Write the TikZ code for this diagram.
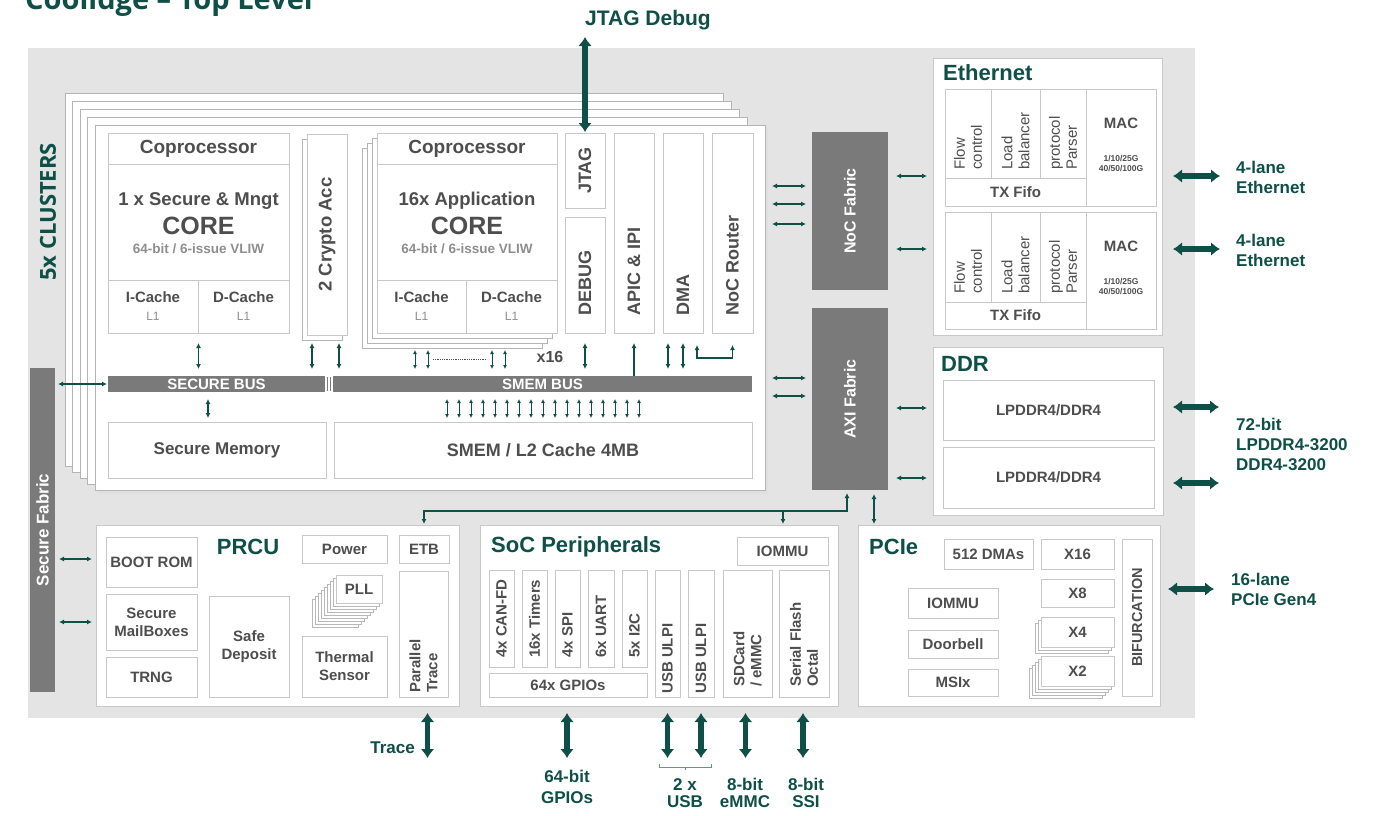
\documentclass[tikz,border=0pt]{standalone}
\usepackage{fontspec}
\setmainfont{Liberation Sans}
\newfontfamily\osans{Open Sans}
\usetikzlibrary{arrows.meta,calc}
\definecolor{tealdk}{HTML}{0E4F47}
\definecolor{bggray}{HTML}{E4E4E4}
\definecolor{fabgray}{HTML}{7A7A7A}
\definecolor{bdgray}{HTML}{C8C8C8}
\definecolor{shgray}{HTML}{B4B4B4}
\definecolor{txgray}{HTML}{4E4E4E}
\definecolor{ltgray}{HTML}{8E8E8E}
\definecolor{brblue}{HTML}{5E8FBF}
\newcommand{\fsz}[2]{\fontsize{#1}{#2}\selectfont}
\newcommand{\mkbox}[7][]{%
  \pgfmathsetmacro\mbw{#5-#3}%
  \pgfmathsetmacro\mbh{#6-#4}%
  \node[bx,anchor=north west,minimum width=\mbw pt,minimum height=\mbh pt,#1] (#2) at (#3,#4) {#7};}
\tikzset{
  bx/.style={draw=bdgray,fill=white,line width=1pt,inner sep=0pt,outer sep=0pt,text=txgray,font=\bfseries\fsz{15}{18},align=center},
  sheet/.style={draw=shgray,fill=white,line width=0.8pt},
  fab/.style={draw=none,fill=fabgray,text=white,font=\bfseries\fsz{16}{18}},
  hd/.style={text=tealdk,font=\bfseries\fsz{22}{24},inner sep=0pt,anchor=west},
  lbl/.style={text=tealdk,font=\bfseries\fsz{17}{20},inner sep=0pt,align=left},
  vl/.style={rotate=90,anchor=west,align=left,inner sep=0pt,text=txgray,font=\bfseries\fsz{15}{17}},
  sa/.style={draw=tealdk,line width=1.3pt,{Latex[length=5pt,width=5pt]}-{Latex[length=5pt,width=5pt]}},
  sau/.style={draw=tealdk,line width=1.3pt,-{Latex[length=5pt,width=5pt]}},
  ta/.style={draw=tealdk,line width=1pt,{Latex[length=4pt,width=4pt]}-{Latex[length=4pt,width=4pt]}},
  bigar/.style={draw=tealdk,line width=5.5pt,{Latex[length=9pt,width=14pt]}-{Latex[length=9pt,width=14pt]}},
  ctext/.style={text=txgray,inner sep=0pt,anchor=base},
}
\begin{document}
\begin{tikzpicture}[x=1pt,y=-1pt]
\useasboundingbox (0,0) rectangle (1379,815);
\fill[white] (0,0) rectangle (1379,815);
\node[anchor=base west,inner sep=0pt,text=tealdk,font=\osans\bfseries\fsz{29}{30}] (title) at (25,9) {Coolidge – Top Level};
\fill[bggray] (28,48) rectangle (1195,718);

\node[lbl,font=\bfseries\fsz{21}{22}] (jtagT) at (648,20) {JTAG Debug};

% ---------- cluster stack ----------
\foreach \k in {4,3,2,1}{
  \fill[black!10] ({97-7.5*\k},{127-8*\k}) rectangle ({758-8*\k},{493-6*\k});
  \filldraw[sheet] ({95-7.5*\k},{125-8*\k}) rectangle ({755-8*\k},{490-6*\k});
}
\fill[black!12] (97,127) rectangle (768,494);
\mkbox[draw=shgray]{cluster}{95}{125}{765}{490}{}
\node[rotate=90,inner sep=0pt,text=tealdk,font=\osans\bfseries\fsz{22}{24}] (clusters) at (48,212) {5x CLUSTERS};

\mkbox[fab,font=\bfseries\fsz{17}{18}]{secfab}{30}{368}{55}{692}{\rotatebox{90}{Secure Fabric}}

% secure coprocessor
\mkbox{scop}{108}{133}{289}{333}{}
\mkbox[font=\bfseries\fsz{19}{20}]{scophd}{108}{133}{289}{164}{Coprocessor}
\mkbox{sic}{108}{280}{198}{333}{I-Cache\\{\mdseries\color{ltgray}\fsz{12}{12}L1}}
\mkbox{sdc}{198}{280}{289}{333}{D-Cache\\{\mdseries\color{ltgray}\fsz{12}{12}L1}}
\node[ctext,font=\bfseries\fsz{18.5}{20}] (st1) at (198.5,205.5) {1 x Secure \& Mngt};
\node[ctext,font=\bfseries\fsz{25}{26}] (st2) at (198.5,234) {CORE};
\node[ctext,text=ltgray,font=\bfseries\fsz{13.5}{14}] (st3) at (198.5,253) {64-bit / 6-issue VLIW};

% crypto
\filldraw[sheet] (302,139) rectangle (342,340);
\mkbox[font=\bfseries\fsz{18.5}{20}]{crypto}{307}{134}{347}{335}{\rotatebox{90}{2 Crypto Acc}}

% application coprocessor stack
\foreach \k in {3,2,1}
  \filldraw[sheet] ({377-5*\k},{133+5*\k}) rectangle ({557-5*\k},{333+5*\k});
\mkbox{acop}{377}{133}{557}{333}{}
\mkbox[font=\bfseries\fsz{19}{20}]{acophd}{377}{133}{557}{164}{Coprocessor}
\mkbox{aic}{377}{280}{466}{333}{I-Cache\\{\mdseries\color{ltgray}\fsz{12}{12}L1}}
\mkbox{adc}{466}{280}{557}{333}{D-Cache\\{\mdseries\color{ltgray}\fsz{12}{12}L1}}
\node[ctext,font=\bfseries\fsz{18.5}{20}] (at1) at (467,205.5) {16x Application};
\node[ctext,font=\bfseries\fsz{25}{26}] (at2) at (467,234) {CORE};
\node[ctext,text=ltgray,font=\bfseries\fsz{13.5}{14}] (at3) at (467,253) {64-bit / 6-issue VLIW};

% right column blocks of cluster
\mkbox[font=\bfseries\fsz{18}{20}]{jtag}{565}{133}{605}{208}{\rotatebox{90}{JTAG}}
\mkbox{debug}{565}{217}{605}{333}{}
\mkbox{apic}{614}{133}{654}{333}{}
\mkbox{dma}{663}{133}{703}{333}{}
\mkbox{nocr}{712}{133}{753}{333}{}
\node[vl,font=\bfseries\fsz{18}{20}] (debugT) at ($(debug.south)+(0,-17)$) {DEBUG};
\node[vl,font=\bfseries\fsz{18}{20}] (apicT) at ($(apic.south)+(0,-17)$) {APIC \& IPI};
\node[vl,font=\bfseries\fsz{18}{20}] (dmaT) at ($(dma.south)+(0,-17)$) {DMA};
\node[vl,font=\bfseries\fsz{18}{20}] (nocrT) at ($(nocr.south)+(0,-17)$) {NoC Router};

% buses and memories
\mkbox[fab,font=\bfseries\fsz{15}{16}]{secbus}{108}{376}{325}{392}{SECURE BUS}
\mkbox[fab,font=\bfseries\fsz{15}{16}]{smembus}{333}{376}{752}{392}{SMEM BUS}
\draw[fabgray,line width=0.8pt] (327.5,377) -- (327.5,391) (330.5,377) -- (330.5,391);
\mkbox[font=\bfseries\fsz{17}{18}]{secmem}{108}{422}{326}{478}{Secure Memory}
\mkbox[font=\bfseries\fsz{18}{20}]{smem}{334}{422}{752}{478}{SMEM / L2 Cache 4MB}

% arrows inside cluster
\draw[sa] ($(scop.south)+(0,10)$) -- ($(scop.south |- secbus.north)+(0,-7)$);
\draw[sa] ($(crypto.south)+(-15,8)$) -- ($(crypto.south |- secbus.north)+(-15,-7)$);
\draw[sa] ($(crypto.south)+(12,8)$) -- ($(crypto.south |- smembus.north)+(12,-7)$);
\foreach \dx in {-52,-39,25,38}
  \draw[ta] ($(acop.south)+(\dx,17)$) -- ($(acop.south |- smembus.north)+(\dx,-7)$);
\draw[densely dotted,txgray,line width=0.8pt] ($(acop.south)+(-34,26)$) -- ($(acop.south)+(20,26)$);
\node[text=txgray,font=\bfseries\fsz{16}{16},inner sep=0pt] (x16lbl) at (550,357) {x16};
\draw[sa] ($(debug.south)+(0,10)$) -- ($(debug.south |- smembus.north)+(0,-7)$);
\draw[sau] (apic.south |- smembus.north) -- ($(apic.south)+(0,10)$);
\foreach \dx in {-15,0}
  \draw[sa] ($(dma.south)+(\dx,10)$) -- ($(dma.south |- smembus.north)+(\dx,-7)$);
\draw[sa] ($(dma.south)+(14,12)$) -- ($(dma.south)+(14,25)$) -| ($(nocr.south)+(0,12)$);
\draw[sa] ($(secfab.east |- secbus.west)+(3,0)$) -- ($(secbus.west)+(-1,0)$);
\draw[sa] ($(secbus.south)+(-8.5,7)$) -- ($(secbus.south |- secmem.north)+(-8.5,-4)$);
\foreach \i in {0,...,16}
  \draw[ta] ($(smembus.south west)+({114+12*\i},7)$) -- ($(smembus.south west |- smem.north)+({114+12*\i},-4)$);

\draw[bigar] ($(jtagT.south -| jtag.north)+(0,7)$) -- ($(jtag.north)+(0,-1)$);

% ---------- fabrics ----------
\mkbox[fab]{noc}{812}{132}{888}{290}{\rotatebox{90}{NoC Fabric}}
\mkbox[fab]{axi}{812}{308}{888}{490}{\rotatebox{90}{AXI Fabric}}
\foreach \a/\b in {61/54,79/72,99/92}
  \draw[sa] ($(cluster.north east)+(7,\a)$) -- ($(noc.north west)+(-6,\b)$);
\foreach \a/\b in {253/70,271/88}
  \draw[sa] ($(cluster.north east)+(7,\a)$) -- ($(axi.north west)+(-6,\b)$);

% ---------- Ethernet ----------
\mkbox{ethp}{933}{58}{1162}{335}{}
\node[hd] (ethT) at (943,73) {Ethernet};
\foreach \i/\ya/\yb/\yc in {1/89/178/206,2/212/302/329}{
  \mkbox{fc\i}{945}{\ya}{991}{\yb}{}
  \mkbox{lb\i}{991}{\ya}{1040}{\yb}{}
  \mkbox{pp\i}{1040}{\ya}{1086}{\yb}{}
  \mkbox{mac\i}{1086}{\ya}{1156}{\yc}{}
  \mkbox{tx\i}{945}{\yb}{1086}{\yc}{TX Fifo}
  \node[vl,font=\mdseries\fsz{15}{17}] (fcT\i) at ($(fc\i.south)+(0,-8)$) {Flow\\control};
  \node[vl,font=\mdseries\fsz{15}{17}] (lbT\i) at ($(lb\i.south)+(0,-8)$) {Load\\balancer};
  \node[vl,font=\mdseries\fsz{15}{17}] (ppT\i) at ($(pp\i.south)+(0,-8)$) {protocol\\Parser};
  \node[text=txgray,font=\bfseries\fsz{15}{16},inner sep=0pt] (macT\i) at ($(mac\i.north)+(0,34)$) {MAC};
  \node[text=txgray,font=\bfseries\fsz{8.5}{10},inner sep=0pt,align=center] (macS\i) at ($(mac\i.north)+(0,74)$) {1/10/25G\\40/50/100G};
}
\foreach \a/\b in {44/118,117/191}
  \draw[sa] ($(noc.north east)+(8,\a)$) -- ($(ethp.north west)+(-6,\b)$);
\foreach \a in {118,191}
  \draw[bigar] ($(ethp.north east)+(11,\a)$) -- ++(47,0);
\node[lbl,anchor=west] (ethL1) at (1236,177) {4-lane\\Ethernet};
\node[lbl,anchor=west] (ethL2) at (1236,250) {4-lane\\Ethernet};

% ---------- DDR ----------
\mkbox{ddrp}{933}{347}{1163}{515}{}
\node[hd] (ddrT) at (941,364) {DDR};
\mkbox{lp1}{943}{380}{1154}{440}{LPDDR4/DDR4}
\mkbox{lp2}{943}{447}{1154}{508}{LPDDR4/DDR4}
\foreach \a/\b in {100/61,170/131}
  \draw[sa] ($(axi.north east)+(8,\a)$) -- ($(ddrp.north west)+(-6,\b)$);
\foreach \a in {60,136}
  \draw[bigar] ($(ddrp.north east)+(10,\a)$) -- ++(46,0);
\node[lbl,anchor=west] (ddrL) at (1236,444) {72-bit\\LPDDR4-3200\\DDR4-3200};

% ---------- PRCU ----------
\mkbox{prcu}{96}{525}{459}{706}{}
\node[hd,anchor=center] (prcuT) at (248,547) {PRCU};
\mkbox{bootrom}{106}{537}{197}{587}{BOOT ROM}
\mkbox{mailbox}{106}{594}{197}{650}{Secure\\MailBoxes}
\mkbox{trng}{106}{657}{197}{697}{TRNG}
\mkbox{safe}{209}{596}{289}{697}{Safe\\Deposit}
\mkbox{power}{302}{535}{387}{563}{Power}
\foreach \k in {8,7,...,1}
  \filldraw[fill=white,draw=black!28,line width=0.5pt] ({336-3*\k},{575+3*\k}) rectangle ({382-3*\k},{603+3*\k});
\mkbox{pll}{336}{575}{382}{603}{PLL}
\mkbox{thermal}{302}{636}{387}{697}{Thermal\\Sensor}
\mkbox{etb}{399}{535}{449}{563}{ETB}
\mkbox{ptrace}{399}{571}{448}{697}{}
\node[vl] (ptraceT) at ($(ptrace.south)+(0,-4)$) {Parallel\\Trace};
\draw[sa] ($(secfab.north east)+(4,191)$) -- ($(prcu.north west)+(-4,34)$);
\draw[sa] ($(secfab.north east)+(4,254)$) -- ($(prcu.north west)+(-4,97)$);

% ---------- SoC peripherals ----------
\mkbox{socp}{480}{525}{838}{706}{}
\node[hd] (socT) at (491,547) {SoC Peripherals};
\mkbox{siommu}{737}{537}{828}{565}{IOMMU}
\mkbox{can}{489}{570}{514}{667}{}
\mkbox{timers}{522}{570}{547}{667}{}
\mkbox{spi}{555}{570}{580}{667}{}
\mkbox{uart}{588}{570}{614}{667}{}
\mkbox{itwoc}{622}{570}{647}{667}{}
\mkbox{gpio}{489}{673}{647}{697}{64x GPIOs}
\mkbox{usba}{655}{570}{680}{697}{}
\mkbox{usbb}{688}{570}{714}{697}{}
\mkbox{sdcard}{723}{570}{772}{697}{}
\mkbox{sflash}{779}{570}{829}{697}{}
\node[vl] (canT) at ($(can.south)+(0,-9)$) {4x CAN-FD};
\node[vl] (timT) at ($(timers.south)+(0,-9)$) {16x Timers};
\node[vl] (spiT) at ($(spi.south)+(0,-9)$) {4x SPI};
\node[vl] (uartT) at ($(uart.south)+(0,-9)$) {6x UART};
\node[vl] (i2cT) at ($(itwoc.south)+(0,-9)$) {5x I2C};
\node[vl] (usbaT) at ($(usba.south)+(0,-3)$) {USB ULPI};
\node[vl] (usbbT) at ($(usbb.south)+(0,-3)$) {USB ULPI};
\node[vl] (sdT) at ($(sdcard.south)+(0,-10)$) {SDCard\\/ eMMC};
\node[vl] (sfT) at ($(sflash.south)+(0,-10)$) {Serial Flash\\Octal};

% ---------- PCIe ----------
\mkbox{pcie}{858}{525}{1160}{706}{}
\node[hd] (pcieT) at (869,547) {PCIe};
\mkbox{dmas}{944}{539}{1033}{569}{512 DMAs}
\mkbox{xsixteen}{1041}{539}{1114}{569}{X16}
\mkbox{xeight}{1041}{579}{1114}{607}{X8}
\foreach \k in {2,1}
  \filldraw[fill=white,draw=black!28,line width=0.5pt] ({1041-3*\k},{617+3*\k}) rectangle ({1114-3*\k},{647+3*\k});
\mkbox{xfour}{1041}{617}{1114}{647}{X4}
\foreach \k in {4,3,2,1}
  \filldraw[fill=white,draw=black!28,line width=0.5pt] ({1041-3*\k},{656+3*\k}) rectangle ({1114-3*\k},{686+3*\k});
\mkbox{xtwo}{1041}{656}{1114}{686}{X2}
\mkbox{piommu}{908}{588}{998}{618}{IOMMU}
\mkbox{door}{908}{630}{998}{658}{Doorbell}
\mkbox{msix}{908}{669}{998}{696}{MSIx}
\mkbox[font=\bfseries\fsz{14.5}{16}]{bif}{1122}{539}{1152}{696}{\rotatebox{90}{BIFURCATION}}
\draw[bigar] ($(pcie.north east)+(8,64)$) -- ++(46,0);
\node[lbl,anchor=west] (pcieL) at (1231,589) {16-lane\\PCIe Gen4};

% ---------- AXI to lower blocks ----------
\draw[sa] ($(etb.north |- prcu.north)+(0,-1)$) |- ($(axi.south)+(-3,21)$) -- ($(axi.south)+(-3,3)$);
\coordinate (brj) at (783,511);
\draw[sau] (brj) -- ($(brj |- socp.north)+(0,-1)$);
\draw[sa] ($(axi.south)+(24,4)$) -- ($(axi.south |- pcie.north)+(24,-1)$);

% ---------- bottom interfaces ----------
\draw[bigar] ($(ptrace.south |- prcu.south)+(4,7)$) -- ++(0,45);
\node[lbl,anchor=east] (traceL) at (415,748) {Trace};
\draw[bigar] ($(gpio.south |- socp.south)+(-1,7)$) -- ++(0,45);
\draw[bigar] ($(usba.south |- socp.south)+(0,7)$) -- ++(0,45);
\draw[bigar] ($(usbb.south |- socp.south)+(0,7)$) -- ++(0,45);
\draw[bigar] ($(sdcard.south |- socp.south)+(-2,7)$) -- ++(0,45);
\draw[bigar] ($(sflash.south |- socp.south)+(-1,7)$) -- ++(0,45);
\coordinate (brc) at (685,767);
\draw[brblue,line width=1pt] ($(brc)+(-26,-3)$) -- ($(brc)+(-26,0)$) -- ($(brc)+(26,0)$) -- ($(brc)+(26,-3)$) ($(brc)$) -- ($(brc)+(0,3)$);
\node[lbl,align=center,anchor=north,font=\bfseries\fsz{17}{21}] (gpioL) at (567,770) {64-bit\\GPIOs};
\node[lbl,align=center,anchor=north,font=\bfseries\fsz{17}{17}] (usbL) at (685,778) {2 x\\USB};
\node[lbl,align=center,anchor=north,font=\bfseries\fsz{17}{17}] (emmcL) at (745,778) {8-bit\\eMMC};
\node[lbl,align=center,anchor=north,font=\bfseries\fsz{17}{17}] (ssiL) at (806,778) {8-bit\\SSI};
\end{tikzpicture}
\end{document}
